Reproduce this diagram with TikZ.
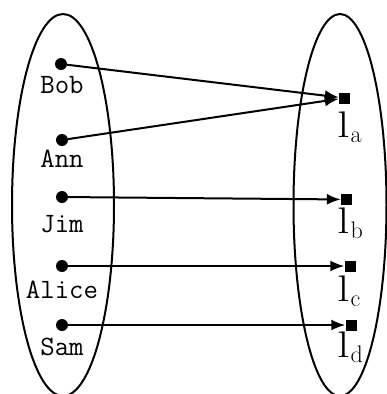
\documentclass[tikz,border=0pt]{standalone}
\usetikzlibrary{arrows.meta}
\newcommand{\subl}[1]{\scalebox{1.35}[1]{\fontsize{37}{40}\selectfont l}\kern1pt\raisebox{-5pt}{\fontsize{24}{26}\selectfont #1}}
\begin{document}
\begin{tikzpicture}[x=1pt,y=-1pt,
  dotnode/.style={circle,fill=black,inner sep=0pt,minimum size=12pt},
  sqnode/.style={rectangle,fill=black,inner sep=0pt,minimum size=11pt},
  nmtext/.style={font=\fontsize{28}{30}\selectfont\ttfamily,inner sep=0pt,anchor=base},
  labtext/.style={inner sep=0pt,anchor=base west},
  arrline/.style={line width=2pt,-{Latex[length=14pt,width=11pt]}},
  setline/.style={line width=2pt}]
\useasboundingbox (0,0) rectangle (387,394);
\draw[setline] (63,205) ellipse [x radius=51, y radius=191];
\draw[setline] (340,205) ellipse [x radius=46.5, y radius=191];
\node[dotnode] (bob) at (61,64) {};
\node[dotnode] (ann) at (62,140) {};
\node[dotnode] (jim) at (62,197) {};
\node[dotnode] (alice) at (62,266) {};
\node[dotnode] (sam) at (62,325) {};
\node[nmtext] (tbob) at (62,93) {Bob};
\node[nmtext] (tann) at (62,167) {Ann};
\node[nmtext] (tjim) at (62,232) {Jim};
\node[nmtext] (talice) at (62,298) {Alice};
\node[nmtext] (tsam) at (62,355) {Sam};
\node[sqnode] (la) at (344.5,98) {};
\node[sqnode] (lb) at (346.5,199.5) {};
\node[sqnode] (lc) at (350,266) {};
\node[sqnode] (ld) at (351,325) {};
\node[labtext] (tla) at (337,137) {\subl{a}};
\node[labtext] (tlb) at (337,233) {\subl{b}};
\node[labtext] (tlc) at (337,301) {\subl{c}};
\node[labtext] (tld) at (337,357) {\subl{d}};
\draw[arrline] (bob) -- (la);
\draw[arrline] (ann) -- (la);
\draw[arrline] (jim) -- (lb);
\draw[arrline] (alice) -- (lc);
\draw[arrline] (sam) -- (ld);
\end{tikzpicture}
\end{document}
